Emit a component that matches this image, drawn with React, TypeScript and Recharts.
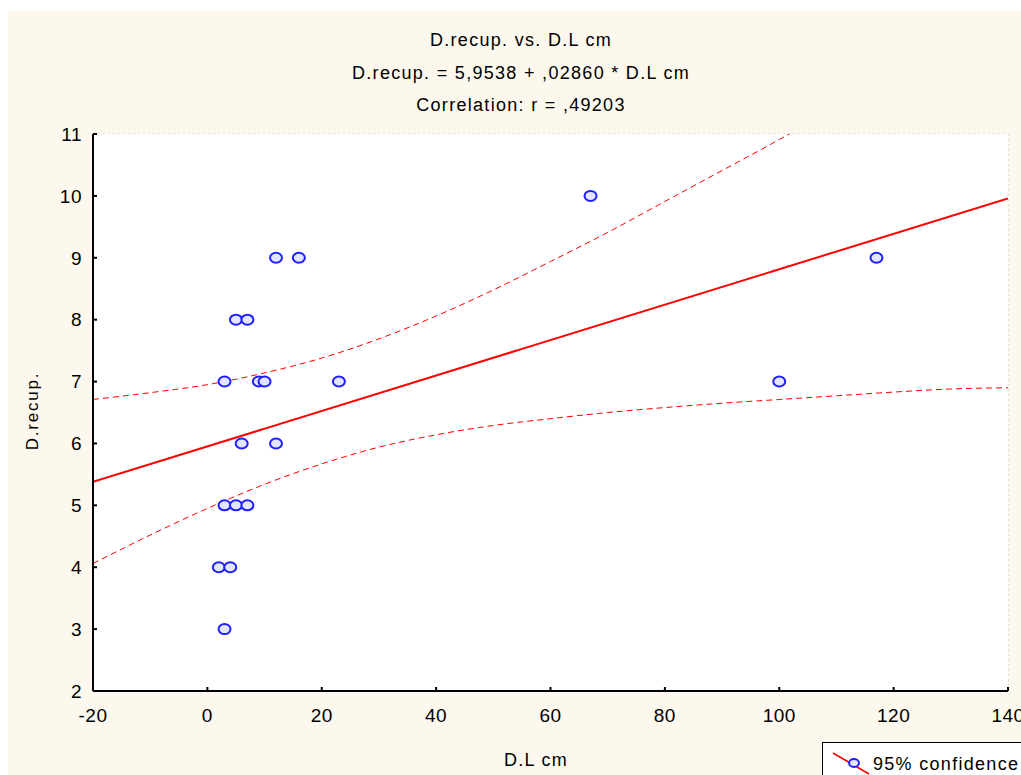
import React from 'react';
import {
    ComposedChart,
    Scatter,
    Line,
    XAxis,
    YAxis,
    CartesianGrid
} from 'recharts';

// observed points
const dlCm = [3, 3, 2, 4, 3, 5, 7, 6, 12, 5, 7, 12, 16, 9, 10, 23, 67, 100, 117];
const dRecup = [7, 3, 4, 4, 5, 5, 5, 6, 6, 8, 8, 9, 9, 7, 7, 7, 10, 7, 9];

// fitted line, read at the plot edges
const fitX = [-20, 140];
const fitY = [5.38, 9.96];

// 95% confidence band
const bandX = [-20, -10, 0, 10, 20, 30, 40, 50, 60, 70, 80, 90, 100, 110, 120, 130, 140];
const upperBand = [6.71, 6.82, 6.95, 7.14, 7.38, 7.69, 8.06, 8.48, 8.94, 9.41, 9.91, 10.41, 10.91, 11.43, null, null, null];
const lowerBand = [4.06, 4.52, 4.95, 5.34, 5.67, 5.94, 6.14, 6.29, 6.40, 6.50, 6.58, 6.65, 6.71, 6.77, 6.83, 6.88, 6.90];

const xTicks = [-20, 0, 20, 40, 60, 80, 100, 120, 140];
const yTicks = [2, 3, 4, 5, 6, 7, 8, 9, 10, 11];

const titleLines = [
    'D.recup. vs. D.L cm',
    'D.recup. = 5,9538 + ,02860 * D.L cm',
    'Correlation: r = ,49203'
];

const points = dlCm.map((x, i) => ({ x, y: dRecup[i] }));
const fitData = fitX.map((x, i) => ({ x, fit: fitY[i] }));
const bandData = bandX.map((x, i) => ({ x, upper: upperBand[i], lower: lowerBand[i] }));

const FONT = '"Liberation Sans", Arial, sans-serif';
const CREAM = '#fcf8ee';

const Dot = (props: any) => {
    const { cx, cy } = props;
    if (cx == null || cy == null) return null;
    return <ellipse cx={cx} cy={cy} rx={6} ry={5} fill="#e4e6ff" stroke="#1f1fff" strokeWidth={2} />;
};

const tickStyle = { fill: '#000', fontSize: 19, fontFamily: FONT, letterSpacing: 0.5 };

const textStyle: React.CSSProperties = {
    position: 'absolute',
    fontSize: 18,
    letterSpacing: 1.3,
    lineHeight: '22px',
    color: '#000',
    whiteSpace: 'nowrap'
};

export default function App() {
    return (
        <div
            style={{
                position: 'fixed',
                left: 8,
                top: 11,
                width: 1013,
                height: 764,
                overflow: 'hidden',
                background: CREAM,
                fontFamily: FONT
            }}
        >
            <ComposedChart
                width={1060}
                height={780}
                margin={{ top: 123, right: 60, left: 0, bottom: 0 }}
                style={{ position: 'absolute', left: 0, top: 0 }}
            >
                <rect x={85} y={123} width={915} height={557} fill="#ffffff" />
                <CartesianGrid stroke="#c4c4c4" strokeDasharray="2 3" />
                <XAxis
                    type="number"
                    dataKey="x"
                    domain={[-20, 140]}
                    ticks={xTicks}
                    allowDataOverflow
                    height={100}
                    tick={tickStyle}
                    tickSize={-4}
                    tickMargin={22}
                    axisLine={{ stroke: '#000', strokeWidth: 2 }}
                    tickLine={{ stroke: '#000', strokeWidth: 2 }}
                />
                <XAxis
                    xAxisId="top"
                    orientation="top"
                    type="number"
                    dataKey="x"
                    domain={[-20, 140]}
                    ticks={xTicks}
                    height={0}
                    tickFormatter={() => ''}
                    tickSize={-4}
                    axisLine={{ stroke: '#000', strokeWidth: 2 }}
                    tickLine={{ stroke: '#000', strokeWidth: 2 }}
                />
                <YAxis
                    type="number"
                    domain={[2, 11]}
                    ticks={yTicks}
                    allowDataOverflow
                    width={85}
                    tick={tickStyle}
                    tickSize={-4}
                    tickMargin={15}
                    axisLine={{ stroke: '#000', strokeWidth: 2 }}
                    tickLine={{ stroke: '#000', strokeWidth: 2 }}
                />
                <YAxis
                    yAxisId="right"
                    orientation="right"
                    type="number"
                    domain={[2, 11]}
                    ticks={yTicks}
                    width={0}
                    tickFormatter={() => ''}
                    tickSize={-4}
                    axisLine={{ stroke: '#000', strokeWidth: 3 }}
                    tickLine={{ stroke: '#000', strokeWidth: 2 }}
                />
                <Line
                    data={bandData}
                    dataKey="upper"
                    type="monotone"
                    stroke="#ff0000"
                    strokeWidth={1}
                    strokeDasharray="6 4"
                    dot={false}
                    activeDot={false}
                    isAnimationActive={false}
                />
                <Line
                    data={bandData}
                    dataKey="lower"
                    type="monotone"
                    stroke="#ff0000"
                    strokeWidth={1}
                    strokeDasharray="6 4"
                    dot={false}
                    activeDot={false}
                    isAnimationActive={false}
                />
                <Line
                    data={fitData}
                    dataKey="fit"
                    type="linear"
                    stroke="#ff0000"
                    strokeWidth={2}
                    dot={false}
                    activeDot={false}
                    isAnimationActive={false}
                />
                <Scatter data={points} dataKey="y" shape={<Dot />} isAnimationActive={false} />
            </ComposedChart>

            {titleLines.map((t, i) => (
                <div
                    key={i}
                    style={{
                        ...textStyle,
                        left: 163,
                        width: 700,
                        top: 18 + i * 32.5,
                        textAlign: 'center'
                    }}
                >
                    {t}
                </div>
            ))}

            <div style={{ ...textStyle, left: 428, width: 200, top: 738, textAlign: 'center' }}>
                D.L cm
            </div>
            <div
                style={{
                    ...textStyle,
                    fontSize: 17,
                    letterSpacing: 1.8,
                    left: 25 - 60,
                    top: 400 - 11,
                    width: 120,
                    textAlign: 'center',
                    transform: 'rotate(-90deg)'
                }}
            >
                D.recup.
            </div>

            <div
                style={{
                    position: 'absolute',
                    left: 814,
                    top: 731,
                    width: 240,
                    height: 60,
                    background: '#ffffff',
                    border: '1px solid #000',
                    boxSizing: 'border-box'
                }}
            >
                <svg width={50} height={40} style={{ position: 'absolute', left: 0, top: 0 }}>
                    <line x1={10} y1={10} x2={46} y2={31} stroke="#ff0000" strokeWidth={1.5} />
                    <ellipse cx={31} cy={20} rx={5} ry={4} fill="#e4e6ff" stroke="#1f1fff" strokeWidth={2} />
                </svg>
                <div style={{ ...textStyle, left: 50, top: 10 }}>95% confidence</div>
            </div>
        </div>
    );
}
